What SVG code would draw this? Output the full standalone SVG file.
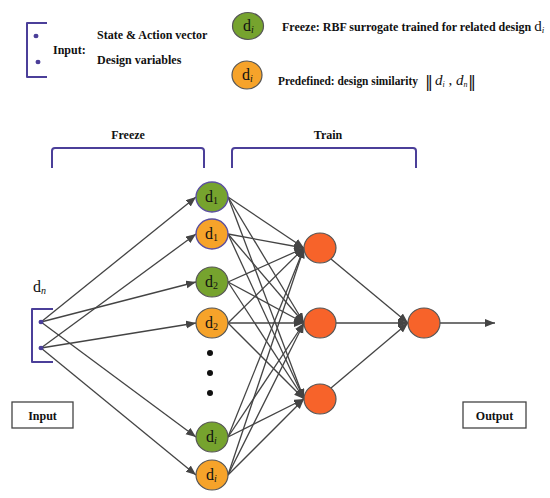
<svg xmlns="http://www.w3.org/2000/svg" width="550" height="498" viewBox="0 0 550 498">
<style>
.bk{fill:none;stroke:#4b3f99;stroke-width:2;stroke-linejoin:round}
.lbl{font-family:"Liberation Serif",serif;font-weight:bold;font-size:12px;fill:#111}
.nd{font-family:"Liberation Serif",serif;font-size:16px;fill:#111}
.sub{font-size:10px}
.g{fill:#76a32e;stroke:#555;stroke-width:1.2}
.o{fill:#f6a32a;stroke:#555;stroke-width:1.2}
.gp{fill:#76a32e;stroke:#5b4fa0;stroke-width:1.4}
.op{fill:#f6a32a;stroke:#5b4fa0;stroke-width:1.4}
.r{fill:#f7632a;stroke:#555;stroke-width:1.2}
.ln{stroke:#444;stroke-width:1.3;fill:none;marker-end:url(#ah)}
.dot{fill:#4b3f99}
.box{fill:#fff;stroke:#444;stroke-width:1.3}
</style>
<defs>
<marker id="ah" markerUnits="userSpaceOnUse" markerWidth="11" markerHeight="9" refX="10" refY="4" orient="auto">
<path d="M0,0 L10,4 L0,8 z" fill="#444"/>
</marker>
</defs>
<rect width="550" height="498" fill="#fff"/>

<g id="legend">
<path class="bk" d="M47,23 H27 V77 H47"/>
<ellipse class="dot" cx="36" cy="36" rx="2.5" ry="2.2"/>
<ellipse class="dot" cx="38" cy="62" rx="2.5" ry="2.2"/>
<text class="lbl" x="53" y="54">Input:</text>
<text class="lbl" x="97" y="39">State &amp; Action vector</text>
<text class="lbl" x="97" y="64">Design variables</text>
<ellipse class="g" cx="248" cy="26" rx="15.5" ry="13.5"/>
<text class="nd" x="243" y="31">d<tspan class="sub" font-style="italic" dy="2">i</tspan></text>
<ellipse class="o" cx="247" cy="75" rx="15" ry="14"/>
<text class="nd" x="242" y="80">d<tspan class="sub" font-style="italic" dy="2">i</tspan></text>
<text class="lbl" x="282" y="31">Freeze: RBF surrogate trained for related design <tspan font-weight="normal" font-size="15">d</tspan><tspan font-weight="normal" font-style="italic" font-size="9" dy="2">i</tspan></text>
<text class="lbl" x="278" y="85" textLength="140" lengthAdjust="spacingAndGlyphs">Predefined: design similarity</text>
<text x="425" y="87" font-family="DejaVu Sans,sans-serif" font-size="16" fill="#111">‖</text>
<text x="435" y="85" font-family="Liberation Serif,serif" font-size="15" fill="#111"><tspan font-style="italic">d</tspan><tspan font-style="italic" font-size="8" dy="2">i</tspan><tspan dy="-2"> , </tspan><tspan font-style="italic">d</tspan><tspan font-style="italic" font-size="8" dy="2">n</tspan></text>
<text x="468" y="87" font-family="DejaVu Sans,sans-serif" font-size="16" fill="#111">‖</text>
</g>

<g id="brackets">
<path class="bk" d="M52,168 V151 Q52,148 55,148 H201 Q204,148 204,151 V168"/>
<text class="lbl" x="128" y="139" text-anchor="middle">Freeze</text>
<path class="bk" d="M232,168 V151 Q232,148 235,148 H413 Q416,148 416,151 V168"/>
<text class="lbl" x="328" y="139" text-anchor="middle">Train</text>
</g>

<g id="connectors">
<line class="ln" x1="41" y1="322" x2="196" y2="197"/>
<line class="ln" x1="41" y1="322" x2="196" y2="282"/>
<line class="ln" x1="41" y1="322" x2="196" y2="437"/>
<line class="ln" x1="41" y1="348" x2="196" y2="234"/>
<line class="ln" x1="41" y1="348" x2="196" y2="323"/>
<line class="ln" x1="41" y1="348" x2="196" y2="475"/>
<line class="ln" x1="228" y1="197" x2="304" y2="248"/>
<line class="ln" x1="228" y1="197" x2="304" y2="323"/>
<line class="ln" x1="228" y1="197" x2="304" y2="399"/>
<line class="ln" x1="228" y1="234" x2="304" y2="248"/>
<line class="ln" x1="228" y1="234" x2="304" y2="323"/>
<line class="ln" x1="228" y1="234" x2="304" y2="399"/>
<line class="ln" x1="228" y1="282" x2="304" y2="248"/>
<line class="ln" x1="228" y1="282" x2="304" y2="323"/>
<line class="ln" x1="228" y1="282" x2="304" y2="399"/>
<line class="ln" x1="228" y1="323" x2="304" y2="248"/>
<line class="ln" x1="228" y1="323" x2="304" y2="323"/>
<line class="ln" x1="228" y1="323" x2="304" y2="399"/>
<line class="ln" x1="228" y1="437" x2="304" y2="248"/>
<line class="ln" x1="228" y1="437" x2="304" y2="323"/>
<line class="ln" x1="228" y1="437" x2="304" y2="399"/>
<line class="ln" x1="228" y1="475" x2="304" y2="248"/>
<line class="ln" x1="228" y1="475" x2="304" y2="323"/>
<line class="ln" x1="228" y1="475" x2="304" y2="399"/>
<line class="ln" x1="331" y1="259" x2="408" y2="323"/>
<line class="ln" x1="336" y1="323" x2="408" y2="323"/>
<line class="ln" x1="331" y1="388" x2="408" y2="323"/>
<line class="ln" x1="440" y1="323" x2="495" y2="323"/>
</g>

<g id="input-port">
<path class="bk" d="M53,309 H32 V362 H53"/>
<ellipse class="dot" cx="41" cy="322" rx="2.5" ry="2.2"/>
<ellipse class="dot" cx="41" cy="348" rx="2.5" ry="2.2"/>
<text class="nd" x="33" y="292">d<tspan class="sub" font-style="italic" dy="2">n</tspan></text>
</g>

<g id="n-g1"><ellipse class="gp" cx="212" cy="197" rx="16" ry="15"/><text class="nd" x="205" y="202">d<tspan class="sub" dy="2">1</tspan></text></g>
<g id="n-o1"><ellipse class="op" cx="212" cy="234" rx="16" ry="15"/><text class="nd" x="205" y="239">d<tspan class="sub" dy="2">1</tspan></text></g>
<g id="n-g2"><ellipse class="g" cx="212" cy="282" rx="16" ry="15"/><text class="nd" x="205" y="287">d<tspan class="sub" dy="2">2</tspan></text></g>
<g id="n-o2"><ellipse class="o" cx="212" cy="323" rx="16" ry="15"/><text class="nd" x="205" y="328">d<tspan class="sub" dy="2">2</tspan></text></g>
<g id="ellipsis">
<circle cx="210" cy="353" r="3" fill="#111"/>
<circle cx="210" cy="373" r="3" fill="#111"/>
<circle cx="210" cy="393" r="3" fill="#111"/>
</g>
<g id="n-gi"><ellipse class="g" cx="212" cy="437" rx="16" ry="15"/><text class="nd" x="206" y="442">d<tspan class="sub" font-style="italic" dy="2">i</tspan></text></g>
<g id="n-oi"><ellipse class="o" cx="212" cy="475" rx="16" ry="15"/><text class="nd" x="206" y="480">d<tspan class="sub" font-style="italic" dy="2">i</tspan></text></g>

<g id="h1"><ellipse class="r" cx="320" cy="248" rx="16" ry="15"/></g>
<g id="h2"><ellipse class="r" cx="320" cy="323" rx="16" ry="15"/></g>
<g id="h3"><ellipse class="r" cx="320" cy="399" rx="16" ry="15"/></g>
<g id="out"><ellipse class="r" cx="424" cy="323" rx="16" ry="15"/></g>

<g id="input-box"><rect class="box" x="12" y="402" width="61" height="26"/><text class="lbl" x="42.5" y="420" text-anchor="middle">Input</text></g>
<g id="output-box"><rect class="box" x="463" y="402" width="63" height="26"/><text class="lbl" x="494.5" y="420" text-anchor="middle">Output</text></g>
</svg>
